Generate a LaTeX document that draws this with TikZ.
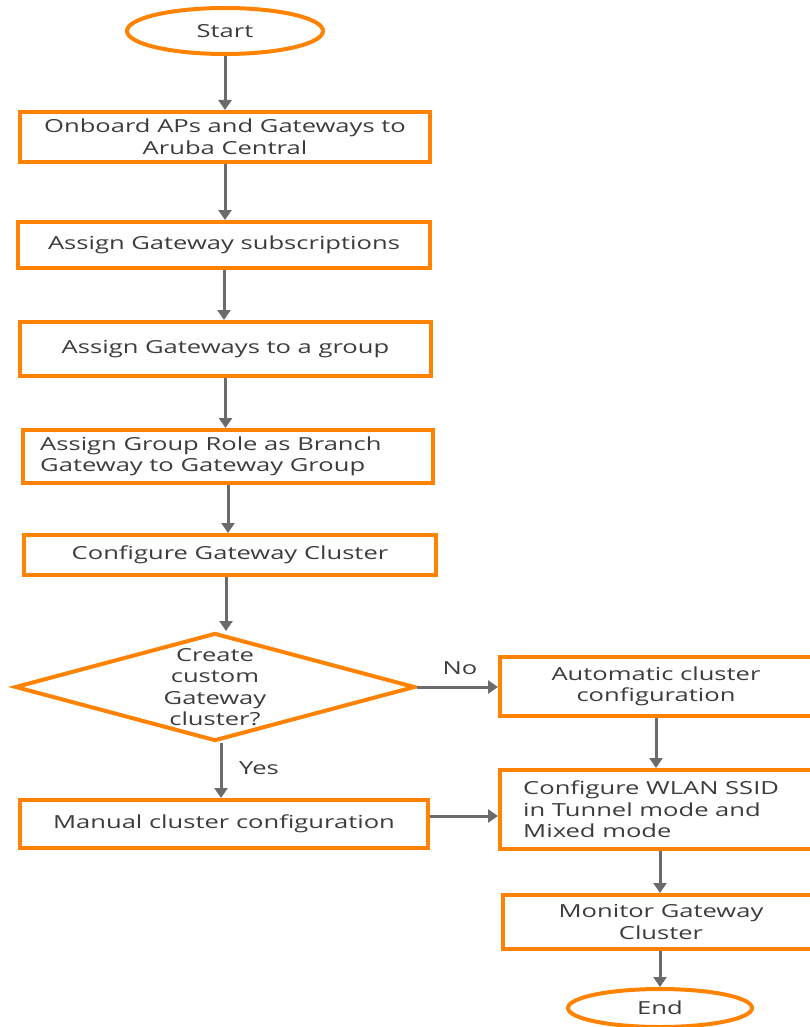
\documentclass[tikz,border=0pt]{standalone}
\usepackage{fontspec}
\setmainfont{Open Sans}[FakeStretch=1.42]
\usetikzlibrary{shapes.geometric,arrows.meta}
\definecolor{aorange}{HTML}{FF8300}
\definecolor{agray}{HTML}{6B6B6B}
\definecolor{atext}{HTML}{3C3C3C}
\begin{document}
\begin{tikzpicture}[x=1pt,y=-1pt,
  every node/.style={font=\fontsize{18}{21.5}\selectfont, text=atext},
  box/.style={draw=aorange, line width=4pt, rectangle, inner sep=0pt, align=center},
  term/.style={draw=aorange, line width=4pt, ellipse, inner sep=0pt, align=center},
  dec/.style={draw=aorange, line width=4pt, diamond, inner sep=0pt},
  arr/.style={draw=agray, line width=3pt, -{Triangle[length=10pt,width=13pt]}},
  lbl/.style={inner sep=0pt}
]
\useasboundingbox (0,0) rectangle (810,1027);
\node[term, minimum width=196, minimum height=46] (start) at (225,31) {Start};
\node[box, minimum width=410, minimum height=50] (b1) at (225,137) {Onboard APs and Gateways to\\Aruba Central};
\node[box, minimum width=412, minimum height=46] (b2) at (224,245) {Assign Gateway subscriptions};
\node[box, minimum width=411, minimum height=54] (b3) at (225.5,349) {Assign Gateways to a group};
\node[box, minimum width=410, minimum height=53] (b4) at (228,456.5) {};
\node[lbl, align=left, anchor=west] (b4text) at (40,456.5) {Assign Group Role as Branch\\Gateway to Gateway Group};
\node[box, minimum width=412, minimum height=40] (b5) at (230,555) {Configure Gateway Cluster};
\node[dec, minimum width=400, minimum height=108] (dia) at (215,687) {};
\node[lbl, align=center] (diatext) at (215,687) {Create\\custom\\Gateway\\cluster?};
\node[box, minimum width=312, minimum height=59] (auto) at (656,686.5) {Automatic cluster\\configuration};
\node[box, minimum width=408, minimum height=48] (manual) at (224,824) {Manual cluster configuration};
\node[box, minimum width=312, minimum height=79] (wlan) at (656,809.5) {};
\node[lbl, align=left, anchor=west] (wlantext) at (523,809.5) {Configure WLAN SSID\\in Tunnel mode and\\Mixed mode};
\node[box, minimum width=316, minimum height=54] (monitor) at (661,922) {Monitor Gateway\\Cluster};
\node[term, minimum width=184, minimum height=38] (end) at (660,1008) {End};
\node[lbl] (no) at (460,668) {No};
\node[lbl] (yes) at (259,768) {Yes};

\draw[arr] (start.south) -- (start.south |- b1.north);
\draw[arr] (b1.south) -- (b1.south |- b2.north);
\draw[arr] (b2.south) -- (b2.south |- b3.north);
\draw[arr] (b3.south) -- (b3.south |- b4.north);
\draw[arr] (b4.south) -- (b4.south |- b5.north);
\draw[arr] ([xshift=-4pt]b5.south) -- ([xshift=-4pt]b5.south |- dia.north);
\draw[arr] (dia.east) -- (dia.east -| auto.west);
\draw[arr] ([xshift=6pt]dia.south) -- ([xshift=6pt]dia.south |- manual.north);
\draw[arr] (manual.east |- {(0,816)}) -- (wlan.west |- {(0,816)});
\draw[arr] (auto.south) -- (auto.south |- wlan.north);
\draw[arr] (end.north |- wlan.south) -- (end.north |- monitor.north);
\draw[arr] (end.north |- monitor.south) -- (end.north);
\end{tikzpicture}
\end{document}
